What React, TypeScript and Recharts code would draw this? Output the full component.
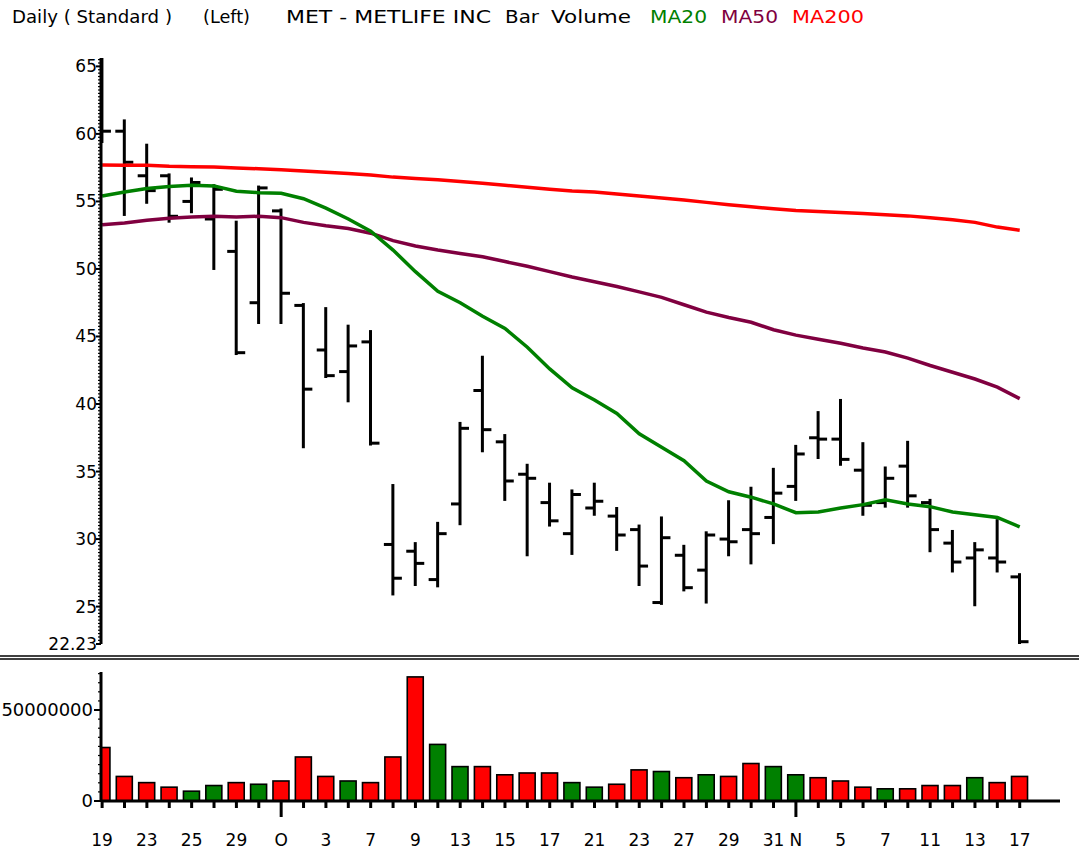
import React from 'react';
import { ComposedChart, Bar, Line, XAxis, YAxis, Cell } from 'recharts';

const dates = [
  '2008-09-19', '2008-09-22', '2008-09-23', '2008-09-24', '2008-09-25', '2008-09-26', '2008-09-29', '2008-09-30',
  '2008-10-01', '2008-10-02', '2008-10-03', '2008-10-06', '2008-10-07', '2008-10-08', '2008-10-09', '2008-10-10',
  '2008-10-13', '2008-10-14', '2008-10-15', '2008-10-16', '2008-10-17', '2008-10-20', '2008-10-21', '2008-10-22',
  '2008-10-23', '2008-10-24', '2008-10-27', '2008-10-28', '2008-10-29', '2008-10-30', '2008-10-31', '2008-11-03',
  '2008-11-04', '2008-11-05', '2008-11-06', '2008-11-07', '2008-11-10', '2008-11-11', '2008-11-12', '2008-11-13',
  '2008-11-14', '2008-11-17',
];

const xLabels = [
  '19', '', '23', '', '25', '', '29', '', 'O', '', '3', '', '7', '', '9', '', '13', '', '15', '', '17', '',
  '21', '', '23', '', '27', '', '29', '', '31', 'N', '', '5', '', '7', '', '11', '', '13', '', '17',
];

const monthStarts = [8, 31];

const opens = [
  63.0, 60.2, 56.9, 56.9, 55.0, 53.7, 51.3, 47.5, 54.3, 47.3, 44.0, 42.4, 44.6, 29.6, 29.1, 27.0, 32.6, 41.0, 37.2, 34.8, 32.7,
  30.4, 32.3, 31.7, 30.7, 25.3, 28.8, 27.7, 30.0, 30.7, 31.6, 33.9, 37.5, 37.4, 35.1, 32.7, 35.4, 32.7, 29.7, 28.6, 28.6, 27.2,
];
const highs = [
  65.6, 61.0, 59.2, 57.0, 56.7, 56.2, 53.5, 56.1, 54.4, 47.4, 47.1, 45.8, 45.4, 34.0, 29.7, 31.2, 38.6, 43.5, 37.7, 35.5, 34.1,
  33.6, 34.1, 32.3, 31.0, 31.6, 29.5, 30.5, 32.8, 33.8, 35.2, 36.9, 39.4, 40.3, 37.1, 35.3, 37.2, 32.9, 30.6, 29.7, 31.4, 27.4,
];
const lows = [
  59.4, 54.0, 54.9, 53.5, 54.2, 50.0, 43.7, 46.0, 46.0, 36.8, 42.0, 40.2, 37.0, 25.9, 26.6, 26.5, 31.1, 36.5, 32.9, 28.8, 31.0,
  28.9, 31.8, 29.2, 26.6, 25.2, 26.2, 25.3, 28.8, 28.2, 29.7, 32.9, 36.0, 35.5, 31.8, 32.4, 32.4, 29.1, 27.6, 25.1, 27.6, 22.3,
];
const closes = [
  60.2, 57.9, 55.8, 53.9, 56.4, 55.9, 43.8, 56.0, 48.2, 41.1, 42.1, 44.3, 37.1, 27.1, 28.2, 30.4, 38.2, 38.1, 34.3, 34.5, 31.35,
  33.3, 32.8, 30.3, 28.0, 30.1, 26.4, 30.3, 29.8, 30.4, 33.4, 36.3, 37.4, 35.9, 32.5, 34.5, 33.2, 30.7, 28.3, 29.2, 28.3, 22.4,
];

const ma20 = [
  55.4, 55.7, 55.95, 56.1, 56.2, 56.15, 55.75, 55.65, 55.6, 55.2, 54.5, 53.7, 52.8, 51.4, 49.8, 48.35, 47.5, 46.5, 45.6, 44.2, 42.6,
  41.2, 40.3, 39.3, 37.8, 36.8, 35.8, 34.3, 33.5, 33.1, 32.6, 31.95, 32.0, 32.3, 32.55, 32.9, 32.6, 32.4, 32.0, 31.8, 31.6, 30.9,
];
const ma50 = [
  53.27, 53.4, 53.6, 53.75, 53.85, 53.9, 53.85, 53.9, 53.8, 53.45, 53.2, 53.0, 52.65, 52.1, 51.7, 51.4, 51.15, 50.9, 50.55, 50.2, 49.8,
  49.4, 49.05, 48.7, 48.3, 47.9, 47.35, 46.8, 46.4, 46.05, 45.5, 45.1, 44.8, 44.5, 44.15, 43.85, 43.4, 42.85, 42.35, 41.85, 41.25, 40.4,
];
const ma200 = [
  57.69, 57.68, 57.67, 57.6, 57.57, 57.54, 57.48, 57.42, 57.34, 57.26, 57.16, 57.07, 56.95, 56.8, 56.69, 56.6, 56.48, 56.34, 56.2, 56.05, 55.9,
  55.78, 55.7, 55.55, 55.4, 55.25, 55.1, 54.93, 54.75, 54.6, 54.45, 54.33, 54.25, 54.18, 54.1, 54.02, 53.93, 53.8, 53.65, 53.45, 53.1, 52.87,
];

const volumesMillions = [
  29.4, 13.5, 10.1, 7.6, 5.4, 8.5, 10.1, 9.2, 11.0, 24.2, 13.5, 11.0, 10.1, 24.2, 68.2, 31.1, 18.9, 18.9, 14.4, 15.4, 15.4,
  10.1, 7.6, 9.2, 17.1, 16.2, 12.8, 14.4, 13.5, 20.6, 18.9, 14.4, 12.8, 11.0, 7.6, 6.7, 6.7, 8.5, 8.5, 12.8, 10.1, 13.5,
];

const priceLabels = [22.23, 25, 30, 35, 40, 45, 50, 55, 60, 65];
const volumeLabels = [0, 50000000];

const UP = '#008000';
const DOWN = '#FF0000';
const MAROON = '#800040';
const FONT = 'DejaVu Sans, Verdana, sans-serif';
const PLOT_LEFT = 101;
const X_DOMAIN: [number, number] = [-0.05, 42.8];

const data = dates.map((date, i) => ({
  i,
  date,
  open: opens[i],
  high: highs[i],
  low: lows[i],
  close: closes[i],
  range: [lows[i], highs[i]],
  ma20: ma20[i],
  ma50: ma50[i],
  ma200: ma200[i],
  vol: volumesMillions[i] * 1000000,
  up: closes[i] >= opens[i],
}));

const priceTicks: number[] = [22.23];
for (let k = 90; k <= 262; k++) priceTicks.push(k * 0.25);

const volumeTicks: number[] = [];
for (let k = 0; k <= 14; k++) volumeTicks.push(k * 5000000);

const OhlcShape = (props: any) => {
  const { x, y, width, height, payload } = props;
  if (x == null || y == null || !payload) return null;
  const top = Math.min(y, y + height);
  const h = Math.abs(height);
  const cx = x + width / 2;
  const span = payload.high - payload.low || 1;
  const yOf = (v: number) => top + ((payload.high - v) / span) * h;
  return (
    <g>
      <line x1={cx} x2={cx} y1={top - 1} y2={top + h + 1} stroke="#000" strokeWidth={3} />
      <line x1={cx - 9} x2={cx} y1={yOf(payload.open)} y2={yOf(payload.open)} stroke="#000" strokeWidth={3} />
      <line x1={cx} x2={cx + 9} y1={yOf(payload.close)} y2={yOf(payload.close)} stroke="#000" strokeWidth={3} />
    </g>
  );
};

const VolumeShape = (props: any) => {
  const { x, y, width, height, fill } = props;
  if (x == null || y == null) return null;
  const left = Math.max(x, PLOT_LEFT);
  const w = x + width - left;
  if (w <= 0) return null;
  return <rect x={left} y={y} width={w} height={height} fill={fill} stroke="#000" strokeWidth={1.6} />;
};

const PriceTick = (props: any) => {
  const { x, y, payload } = props;
  const v = payload.value;
  const isLabel = priceLabels.some((p) => Math.abs(p - v) < 1e-6);
  return (
    <g>
      <line x1={x - (isLabel ? 5 : 3)} x2={x} y1={y} y2={y} stroke="#000" strokeWidth={isLabel ? 2 : 1.2} />
      {isLabel && (
        <text x={x - 4} y={y + 6} textAnchor="end" fontSize={17} fontFamily={FONT} fill="#000">
          {v === 22.23 ? '22.23' : String(v)}
        </text>
      )}
    </g>
  );
};

const VolumeTick = (props: any) => {
  const { x, y, payload } = props;
  const v = payload.value;
  const isLabel = volumeLabels.includes(v);
  return (
    <g>
      <line x1={x - (isLabel ? 7 : 3)} x2={x} y1={y} y2={y} stroke="#000" strokeWidth={isLabel ? 2 : 1.2} />
      {isLabel && (
        <text x={x - 8} y={y + 6} textAnchor="end" fontSize={18} fontFamily={FONT} fill="#000">
          {String(v)}
        </text>
      )}
    </g>
  );
};

const DateTick = (props: any) => {
  const { x, y, payload } = props;
  const idx = payload.value;
  const long = monthStarts.includes(idx);
  const label = xLabels[idx] || '';
  return (
    <g>
      <line x1={x} x2={x} y1={y} y2={y + (long ? 16 : 7)} stroke="#000" strokeWidth={3} />
      {label && (
        <text x={x} y={y + 45} textAnchor="middle" fontSize={17} fontFamily={FONT} fill="#000">
          {label}
        </text>
      )}
    </g>
  );
};

const titleParts = [
  { text: 'Daily ( Standard )', x: 12, len: 160, color: '#000' },
  { text: '(Left)', x: 203, len: 47, color: '#000' },
  { text: 'MET - METLIFE INC', x: 286, len: 205, color: '#000' },
  { text: 'Bar', x: 505, len: 34, color: '#000' },
  { text: 'Volume', x: 551, len: 80, color: '#000' },
  { text: 'MA20', x: 650, len: 57, color: UP },
  { text: 'MA50', x: 721, len: 57, color: MAROON },
  { text: 'MA200', x: 792, len: 72, color: DOWN },
];

export default function App() {
  return (
    <div style={{ position: 'absolute', left: 0, top: 0, width: 1079, height: 853, background: '#fff', overflow: 'hidden' }}>
      <svg style={{ position: 'absolute', left: 0, top: 0 }} width={1079} height={40}>
        {titleParts.map((p) => (
          <text
            key={p.text}
            x={p.x}
            y={23}
            fontSize={17}
            fontFamily={FONT}
            fill={p.color}
            textLength={p.len}
            lengthAdjust="spacingAndGlyphs"
          >
            {p.text}
          </text>
        ))}
      </svg>

      <div style={{ position: 'absolute', left: 0, top: 0 }}>
        <ComposedChart width={1079} height={654} data={data} margin={{ top: 58, right: 19, bottom: 10, left: 0 }}>
          <XAxis dataKey="i" type="number" domain={X_DOMAIN} allowDataOverflow hide />
          <YAxis
            type="number"
            domain={[22.23, 65.62]}
            allowDataOverflow
            width={PLOT_LEFT}
            ticks={priceTicks}
            interval={0}
            tickSize={0}
            tickMargin={0}
            tickLine={false}
            tick={<PriceTick />}
            axisLine={{ stroke: '#000', strokeWidth: 3 }}
          />
          <Line dataKey="ma200" stroke={DOWN} strokeWidth={3.5} dot={false} isAnimationActive={false} type="linear" />
          <Line dataKey="ma50" stroke={MAROON} strokeWidth={3.5} dot={false} isAnimationActive={false} type="linear" />
          <Line dataKey="ma20" stroke={UP} strokeWidth={3.5} dot={false} isAnimationActive={false} type="linear" />
          <Bar dataKey="range" barSize={4} shape={<OhlcShape />} isAnimationActive={false} />
        </ComposedChart>
      </div>

      <div style={{ position: 'absolute', left: 0, top: 655, width: 1079, height: 1, borderTop: '2px solid #404040', borderBottom: '2px solid #404040' }} />

      <div style={{ position: 'absolute', left: 0, top: 660 }}>
        <ComposedChart width={1079} height={193} data={data} margin={{ top: 12, right: 19, bottom: 12, left: 0 }}>
          <XAxis
            dataKey="i"
            type="number"
            domain={X_DOMAIN}
            allowDataOverflow
            ticks={data.map((d) => d.i)}
            interval={0}
            height={40}
            tickSize={0}
            tickMargin={0}
            tickLine={false}
            tick={<DateTick />}
            axisLine={{ stroke: '#000', strokeWidth: 3 }}
          />
          <YAxis
            type="number"
            domain={[0, 70900000]}
            allowDataOverflow
            width={PLOT_LEFT}
            ticks={volumeTicks}
            interval={0}
            tickSize={0}
            tickMargin={0}
            tickLine={false}
            tick={<VolumeTick />}
            axisLine={{ stroke: '#000', strokeWidth: 3 }}
          />
          <Bar dataKey="vol" barSize={16} shape={<VolumeShape />} isAnimationActive={false}>
            {data.map((d) => (
              <Cell key={d.date} fill={d.up ? UP : DOWN} />
            ))}
          </Bar>
        </ComposedChart>
      </div>
    </div>
  );
}
